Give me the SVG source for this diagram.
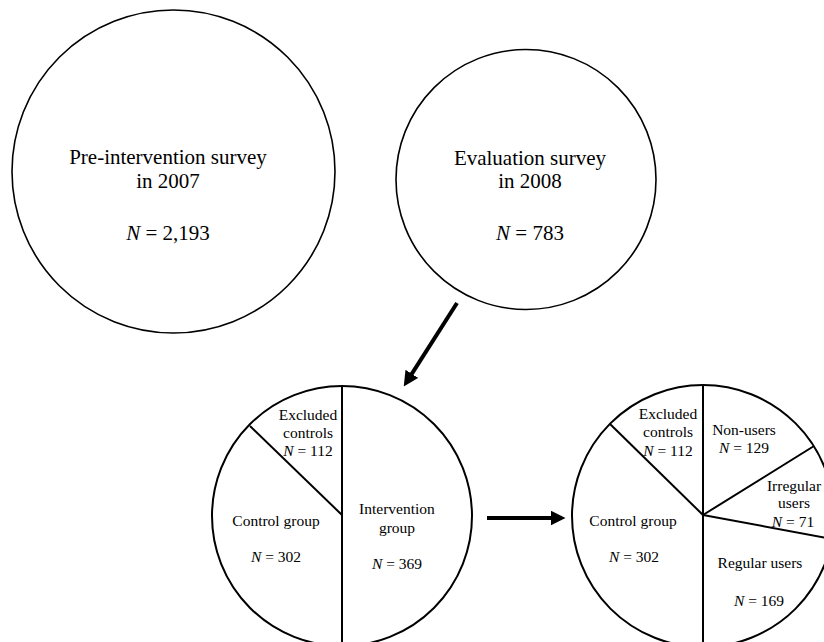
<svg xmlns="http://www.w3.org/2000/svg" width="824" height="642" viewBox="0 0 824 642">
<defs>
<style>
.big{fill:#fff;stroke:#000;stroke-width:1.6}
.pie{fill:#fff;stroke:#000;stroke-width:2}
.div{stroke:#000;stroke-width:2;fill:none}
.t20{font-family:"Liberation Serif","Times New Roman",serif;font-size:21px;fill:#000;text-anchor:middle}
.t15{font-family:"Liberation Serif","Times New Roman",serif;font-size:15.5px;fill:#000;text-anchor:middle}
.it{font-style:italic}
.arr{stroke:#000;stroke-width:4;fill:none}
</style>
<marker id="ah" viewBox="0 0 10 10" refX="3" refY="5" markerUnits="userSpaceOnUse" markerWidth="15" markerHeight="15" orient="auto">
<path d="M0,0 L10,5 L0,10 z" fill="#000"/>
</marker>
</defs>
<rect width="824" height="642" fill="#fff"/>

<g id="pre-survey">
<circle class="big" cx="173.5" cy="171.5" r="161.5"/>
<text class="t20" x="168" y="164">Pre-intervention survey</text>
<text class="t20" x="168" y="188">in 2007</text>
<text class="t20" x="168" y="240"><tspan class="it">N</tspan> = 2,193</text>
</g>

<g id="eval-survey">
<circle class="big" cx="526" cy="179.5" r="130"/>
<text class="t20" x="530" y="165">Evaluation survey</text>
<text class="t20" x="530" y="188">in 2008</text>
<text class="t20" x="530" y="240"><tspan class="it">N</tspan> = 783</text>
</g>

<g id="pie-intervention">
<circle class="pie" cx="342" cy="516" r="130"/>
<line class="div" x1="342" y1="386" x2="342" y2="648"/>
<line class="div" x1="250" y1="426" x2="342" y2="515"/>
<text class="t15" x="308" y="420">Excluded</text>
<text class="t15" x="308" y="438">controls</text>
<text class="t15" x="308" y="456"><tspan class="it">N</tspan> = 112</text>
<text class="t15" x="276" y="526">Control group</text>
<text class="t15" x="276" y="562"><tspan class="it">N</tspan> = 302</text>
<text class="t15" x="397" y="514">Intervention</text>
<text class="t15" x="397" y="533">group</text>
<text class="t15" x="397" y="569"><tspan class="it">N</tspan> = 369</text>
</g>

<g id="pie-users">
<circle class="pie" cx="703" cy="516" r="131"/>
<line class="div" x1="703" y1="385" x2="703" y2="648"/>
<line class="div" x1="610" y1="424" x2="703" y2="515"/>
<line class="div" x1="703" y1="515" x2="814" y2="446"/>
<line class="div" x1="703" y1="515" x2="832" y2="539"/>
<text class="t15" x="668" y="419">Excluded</text>
<text class="t15" x="668" y="437">controls</text>
<text class="t15" x="668" y="456"><tspan class="it">N</tspan> = 112</text>
<text class="t15" x="744" y="435">Non-users</text>
<text class="t15" x="744" y="453"><tspan class="it">N</tspan> = 129</text>
<text class="t15" x="794" y="491">Irregular</text>
<text class="t15" x="794" y="508">users</text>
<text class="t15" x="793" y="527"><tspan class="it">N</tspan> = 71</text>
<text class="t15" x="633" y="526">Control group</text>
<text class="t15" x="634" y="562"><tspan class="it">N</tspan> = 302</text>
<text class="t15" x="760" y="568">Regular users</text>
<text class="t15" x="759" y="606"><tspan class="it">N</tspan> = 169</text>
</g>

<g id="connectors">
<line class="arr" x1="457" y1="303" x2="409.4" y2="377.6" marker-end="url(#ah)"/>
<line class="arr" x1="487" y1="518" x2="555" y2="518" marker-end="url(#ah)"/>
</g>
</svg>
